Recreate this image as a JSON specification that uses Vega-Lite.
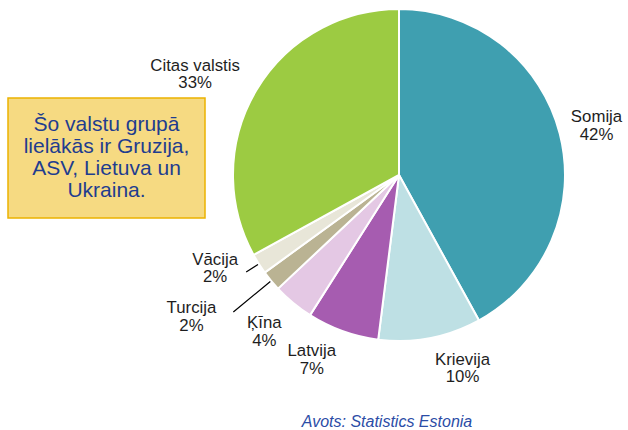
{
  "$schema": "https://vega.github.io/schema/vega-lite/v6.json",
  "width": 332,
  "height": 332,
  "autosize": {"type": "none"},
  "padding": {"left": 233, "top": 9, "right": 63, "bottom": 89},
  "background": "white",
  "config": {"view": {"stroke": null}},
  "data": {
    "values": [
      {"n": 1, "country": "Somija", "share": 0.42},
      {"n": 2, "country": "Krievija", "share": 0.10},
      {"n": 3, "country": "Latvija", "share": 0.07},
      {"n": 4, "country": "Ķīna", "share": 0.04},
      {"n": 5, "country": "Turcija", "share": 0.02},
      {"n": 6, "country": "Vācija", "share": 0.02},
      {"n": 7, "country": "Citas valstis", "share": 0.33}
    ]
  },
  "layer": [
    {
      "mark": {"type": "arc", "radius": 166, "stroke": "white", "strokeWidth": 2},
      "encoding": {
        "theta": {"field": "share", "type": "quantitative", "stack": true},
        "order": {"field": "n", "type": "quantitative"},
        "color": {
          "field": "country",
          "type": "nominal",
          "scale": {
            "domain": ["Somija", "Krievija", "Latvija", "Ķīna", "Turcija", "Vācija", "Citas valstis"],
            "range": ["#3F9FB0", "#BEE0E4", "#A65CB0", "#E4C8E4", "#BAB393", "#E8E6D8", "#9CCB42"]
          },
          "legend": null
        }
      }
    },
    {
      "mark": {
        "type": "arc",
        "radius": {"expr": "datum.country == 'Turcija' ? 215 : 181"},
        "radius2": 167,
        "padAngle": 1,
        "fillOpacity": 0,
        "stroke": "#000000",
        "strokeWidth": 1.2
      },
      "encoding": {
        "theta": {"field": "share", "type": "quantitative", "stack": true},
        "order": {"field": "n", "type": "quantitative"},
        "detail": {"field": "country", "type": "nominal"},
        "strokeOpacity": {
          "condition": {"test": "datum.country == 'Turcija' || datum.country == 'Vācija'", "value": 1},
          "value": 0
        }
      }
    },
    {
      "mark": {
        "type": "text",
        "font": "Liberation Sans",
        "fontSize": 16.8,
        "color": "#1E1E1E",
        "align": "center",
        "baseline": "middle",
        "radius": {"expr": "datum.country == 'Turcija' ? 215 : datum.country == 'Vācija' ? 182 : datum.country == 'Ķīna' ? 188 : 181"},
        "dx": {"expr": "(sin(PI*(datum.share_start+datum.share_end)) > 0 ? 1 : -1) * (length(datum.country) * 3.7 + (datum.country == 'Turcija' ? 16 : datum.country == 'Vācija' ? 8 : 0))"},
        "dy": {"expr": "datum.country == 'Turcija' ? -4 : datum.country == 'Vācija' ? -13 : -cos(PI*(datum.share_start+datum.share_end))*16 - 9"}
      },
      "encoding": {
        "theta": {"field": "share", "type": "quantitative", "stack": true},
        "order": {"field": "n", "type": "quantitative"},
        "detail": {"field": "country", "type": "nominal"},
        "text": {"field": "country", "type": "nominal"}
      }
    },
    {
      "mark": {
        "type": "text",
        "font": "Liberation Sans",
        "fontSize": 16.8,
        "color": "#1E1E1E",
        "align": "center",
        "baseline": "middle",
        "radius": {"expr": "datum.country == 'Turcija' ? 215 : datum.country == 'Vācija' ? 182 : datum.country == 'Ķīna' ? 188 : 181"},
        "dx": {"expr": "(sin(PI*(datum.share_start+datum.share_end)) > 0 ? 1 : -1) * (length(datum.country) * 3.7 + (datum.country == 'Turcija' ? 16 : datum.country == 'Vācija' ? 8 : 0))"},
        "dy": {"expr": "datum.country == 'Turcija' ? 13.5 : datum.country == 'Vācija' ? 4.5 : -cos(PI*(datum.share_start+datum.share_end))*16 + 8.5"}
      },
      "encoding": {
        "theta": {"field": "share", "type": "quantitative", "stack": true},
        "order": {"field": "n", "type": "quantitative"},
        "detail": {"field": "country", "type": "nominal"},
        "text": {"field": "share", "type": "quantitative", "format": ".0%"}
      }
    },
    {
      "data": {"values": [{}]},
      "mark": {
        "type": "rect",
        "x": -225,
        "x2": -28,
        "y": 89,
        "y2": 209,
        "fill": "#F6DA82",
        "stroke": "#EBB300",
        "strokeWidth": 1.5
      },
      "encoding": {}
    },
    {
      "data": {"values": [{}]},
      "mark": {
        "type": "text",
        "x": -126.5,
        "y": 115.5,
        "text": ["Šo valstu grupā", "lielākās ir Gruzija,", "ASV, Lietuva un", "Ukraina."],
        "font": "Liberation Sans",
        "fontSize": 21,
        "lineHeight": 22,
        "align": "center",
        "baseline": "middle",
        "color": "#1F3D8F"
      },
      "encoding": {}
    },
    {
      "data": {"values": [{}]},
      "mark": {
        "type": "text",
        "x": 154,
        "y": 413,
        "text": "Avots: Statistics Estonia",
        "font": "Liberation Sans",
        "fontSize": 16,
        "fontStyle": "italic",
        "align": "center",
        "baseline": "middle",
        "color": "#2B4CA6"
      },
      "encoding": {}
    }
  ]
}
